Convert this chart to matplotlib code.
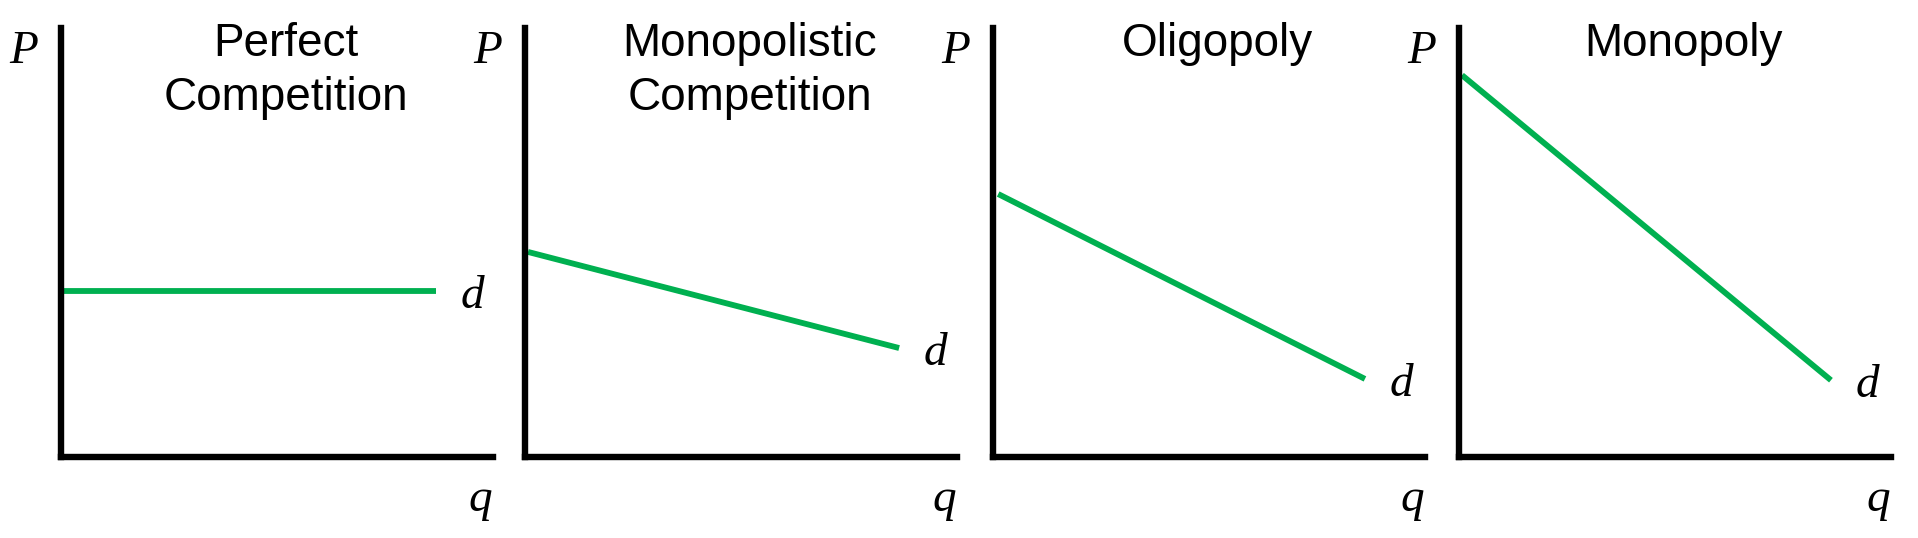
import matplotlib
matplotlib.use("Agg")
import matplotlib.pyplot as plt

# four market structures, demand curve d drawn in P/q space (0-10 scale)
titles = [["Perfect", "Competition"], ["Monopolistic", "Competition"],
          ["Oligopoly"], ["Monopoly"]]
q_start = [0.05, 0.07, 0.12, 0.07]
q_end = [8.68, 8.66, 8.61, 8.61]
p_start = [3.86, 4.78, 6.13, 8.90]
p_end = [3.86, 2.54, 1.82, 1.79]

W, H = 1918, 538
GREEN = "#00B050"
axis_left = [61, 525, 993, 1459]   # pixel position of the P axis
axis_w = 432
axis_top, axis_bot = 28, 457

fig = plt.figure(figsize=(W / 100, H / 100), dpi=100)
serif = dict(family="Liberation Serif", style="italic", fontsize=34)
sans = dict(family="Liberation Sans", fontsize=33)

for i in range(4):
    x0 = axis_left[i]
    ax = fig.add_axes([x0 / W, (H - axis_bot) / H, axis_w / W, (axis_bot - axis_top) / H])
    ax.set_xlim(0, 10)
    ax.set_ylim(0, 10)
    for s in ("top", "right"):
        ax.spines[s].set_visible(False)
    for s in ("left", "bottom"):
        ax.spines[s].set_linewidth(4.6)
        ax.spines[s].set_color("black")
        ax.spines[s].set_capstyle("projecting")
    ax.set_xticks([])
    ax.set_yticks([])
    ax.patch.set_alpha(0)

    ax.plot([q_start[i], q_end[i]], [p_start[i], p_end[i]], color=GREEN, lw=4.2,
            solid_capstyle="butt")
    ax.annotate("d", xy=(q_end[i], p_end[i]), xytext=(36, -17), textcoords="offset pixels",
                ha="center", va="baseline", annotation_clip=False, **serif)
    ax.annotate("P", xy=(0, 1), xycoords="axes fraction", xytext=(-37, -35),
                textcoords="offset pixels", ha="center", va="baseline", **serif)
    ax.annotate("q", xy=(1, 0), xycoords="axes fraction", xytext=(-13, -54),
                textcoords="offset pixels", ha="center", va="baseline", **serif)
    for j, line in enumerate(titles[i]):
        ax.annotate(line, xy=(0, 1), xycoords="axes fraction", xytext=(225, -28 - 54 * j),
                    textcoords="offset pixels", ha="center", va="baseline", **sans)

fig.savefig("out.png", dpi=100)
